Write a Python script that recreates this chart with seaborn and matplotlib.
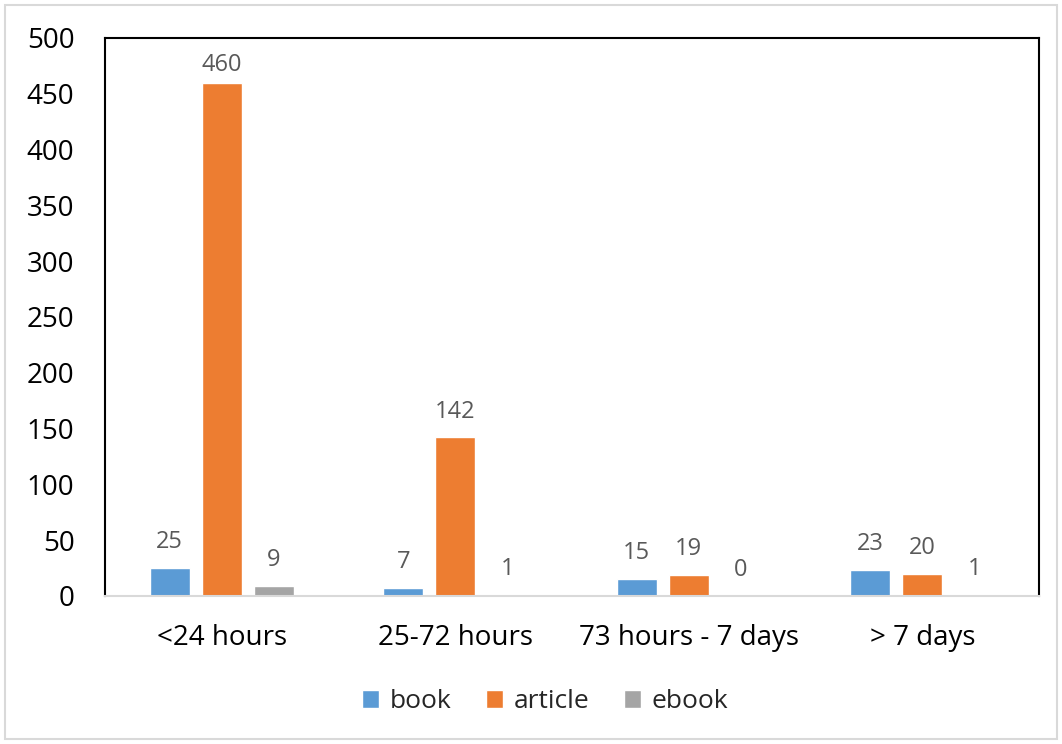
import matplotlib
matplotlib.use("Agg")
import matplotlib.pyplot as plt
import seaborn as sns
import pandas as pd
from matplotlib.patches import Rectangle

categories = ["<24 hours", "25-72 hours", "73 hours - 7 days", "> 7 days"]
book = [25, 7, 15, 23]
article = [460, 142, 19, 20]
ebook = [9, 1, 0, 1]
series_names = ["book", "article", "ebook"]
colors = ["#5B9BD5", "#ED7D31", "#A5A5A5"]

rows = []
for name, vals in zip(series_names, [book, article, ebook]):
    for cat, v in zip(categories, vals):
        rows.append({"period": cat, "type": name, "count": v})
df = pd.DataFrame(rows)

sns.set_theme(style="white")
plt.rcParams["font.family"] = ["Open Sans", "DejaVu Sans"]

fig = plt.figure(figsize=(10.62, 7.44), dpi=100)
ax = fig.add_axes([0.0989, 0.199, 0.8795, 0.750])

sns.barplot(data=df, x="period", y="count", hue="type", order=categories,
            hue_order=series_names, palette=colors, width=0.668, gap=0.232,
            saturation=1, ax=ax, legend=True)

ymax = 500
for cont in ax.containers:
    texts = ax.bar_label(cont, labels=[f"{int(v)}" for v in cont.datavalues],
                         padding=10, color="#595959", fontsize=17)
    # labels near the top of the plot area sit closer to their bar
    for t, v in zip(texts, cont.datavalues):
        if v >= 0.88 * ymax:
            t.xyann = (0, 4)

ax.set_ylim(0, ymax)
ax.set_yticks(range(0, ymax + 1, 50))
ax.set_xlabel("")
ax.set_ylabel("")
ax.tick_params(axis="y", length=0, pad=22, labelsize=20, labelcolor="#000000")
ax.tick_params(axis="x", length=0, pad=20, labelsize=20, labelcolor="#000000")

for side in ["left", "top", "right"]:
    ax.spines[side].set_color("black")
    ax.spines[side].set_linewidth(1.5)
ax.spines["bottom"].set_color("#D9D9D9")
ax.spines["bottom"].set_linewidth(1.5)

handles, labels = ax.get_legend_handles_labels()
ax.legend(handles, labels, loc="center", bbox_to_anchor=(0.471, -0.19),
          ncol=3, frameon=False, fontsize=19, handlelength=0.65,
          handleheight=0.65, handletextpad=0.4, columnspacing=1.3)

fig.patches.append(Rectangle((0.005, 0.007), 0.99, 0.986, transform=fig.transFigure,
                             fill=False, edgecolor="#D9D9D9", linewidth=1.5))

fig.savefig("out.png", dpi=100)
